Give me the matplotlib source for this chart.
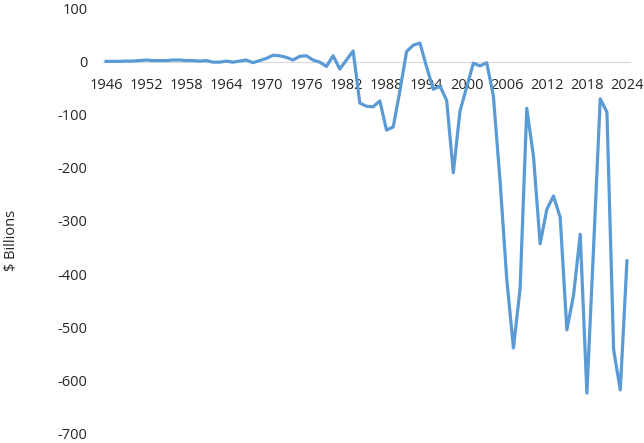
import numpy as np
import matplotlib
matplotlib.use("Agg")
import matplotlib.pyplot as plt

plt.rcParams['font.family'] = ['Open Sans', 'DejaVu Sans']

years = list(range(1946, 2025))
values = [
    0.5, 0.5, 0.5, 1, 1, 2, 3, 2, 2, 2,          # 1946-1955
    3, 3, 2, 2, 1, 2, -1, -1, 1, -1,             # 1956-1965
    1, 3, -2, 2, 6, 12, 11, 8, 3, 10,            # 1966-1975
    11, 3, -1, -9, 11, -14, 3, 20, -78, -84,     # 1976-1985
    -85, -74, -129, -123, -55, 19, 31, 35, -10, -52,  # 1986-1995
    -46, -73, -209, -93, -48, -3, -8, -2, -65, -225,  # 1996-2005
    -409, -539, -427, -88, -178, -343, -278, -253, -293, -505,  # 2006-2015
    -440, -325, -624, -350, -70, -95, -542, -618, -375,  # 2016-2024
]
xtick_years = list(range(1946, 2025, 6))
ytick_values = list(range(-700, 101, 100))

fig = plt.figure(figsize=(6.44, 4.43), dpi=100)
top_px, bot_px = 8.5, 433.5
ax = fig.add_axes([102.7 / 644, 1 - bot_px / 443, (630.3 - 102.7) / 644, (bot_px - top_px) / 443])

ax.plot(years, values, color='#5B9BD5', linewidth=2.3, solid_joinstyle='round')

ax.set_xlim(1945.5, 2024.5)
ax.set_ylim(-700, 100)
ax.set_xticks(xtick_years)
ax.set_xticklabels([str(y) for y in xtick_years])
ax.set_yticks(ytick_values)
ax.set_yticklabels([str(v) for v in ytick_values])

for s in ['top', 'right', 'left']:
    ax.spines[s].set_visible(False)
ax.spines['bottom'].set_position(('data', 0))
ax.spines['bottom'].set_color('#d9d9d9')
ax.spines['bottom'].set_linewidth(0.8)
ax.spines['bottom'].set_zorder(0)

ax.tick_params(axis='x', length=0, pad=12, labelsize=10.5, labelcolor='#262626')
ax.tick_params(axis='y', length=0, pad=11, labelsize=10.5, labelcolor='#262626')

fig.text(12 / 644, 1 - 240 / 443, '$ Billions', rotation=90, ha='center', va='center',
         fontsize=10.5, color='#262626')

fig.savefig('out.png', dpi=100)
